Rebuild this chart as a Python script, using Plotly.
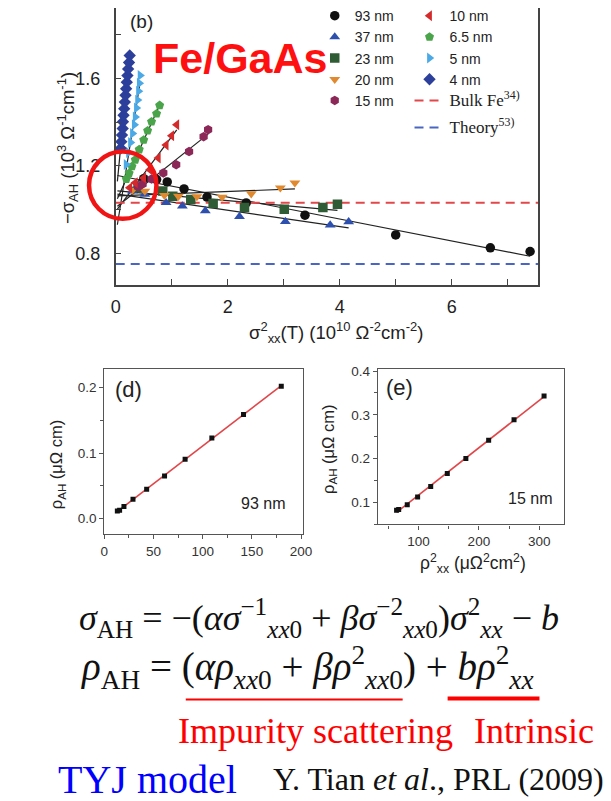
import numpy as np
import plotly.graph_objects as go

W, H = 611, 801


def px(x):
    return x / W


def py(y):
    return 1 - y / H


SANS = "Liberation Sans"
SERIF = "Liberation Serif"

# ---- panel (b): -sigma_AH versus sigma_xx^2 for each Fe film thickness ----
labels_b = ["93 nm", "37 nm", "23 nm", "20 nm", "15 nm",
            "10 nm", "6.5 nm", "5 nm", "4 nm"]
symbols_b = ["circle", "triangle-up", "square", "triangle-down", "hexagon",
             "triangle-left", "pentagon", "triangle-right", "diamond"]
colors_b = ["#111111", "#2d4fae", "#2f5c34", "#e0892e", "#8c2858",
            "#d42a2c", "#4aa54a", "#4ba9e6", "#2c3f9a"]

x_93 = [0.50, 0.73, 0.92, 1.22, 1.63, 2.33, 3.38, 5.00, 6.69, 7.40]
y_93 = [1.142, 1.138, 1.127, 1.095, 1.058, 1.031, 0.975, 0.885, 0.826, 0.809]
x_37 = [0.30, 0.52, 0.90, 1.19, 1.60, 2.21, 3.03, 3.83, 4.16]
y_37 = [1.085, 1.070, 1.032, 1.017, 0.995, 0.969, 0.946, 0.930, 0.945]
x_23 = [0.40, 0.84, 1.02, 1.34, 1.74, 2.30, 3.01, 3.70, 3.96]
y_23 = [1.100, 1.085, 1.062, 1.047, 1.028, 1.010, 1.002, 1.010, 1.025]
x_20 = [0.30, 0.52, 0.87, 1.12, 1.45, 1.90, 2.42, 2.94, 3.20]
y_20 = [1.090, 1.085, 1.066, 1.062, 1.060, 1.058, 1.073, 1.100, 1.123]
x_15 = [0.40, 0.48, 0.64, 0.85, 1.08, 1.31, 1.57, 1.65]
y_15 = [1.105, 1.117, 1.140, 1.168, 1.206, 1.266, 1.334, 1.366]
x_10 = [0.25, 0.35, 0.50, 0.61, 0.76, 0.90, 1.00, 1.09]
y_10 = [1.100, 1.123, 1.145, 1.183, 1.236, 1.296, 1.338, 1.388]
x_65 = [0.19, 0.24, 0.29, 0.35, 0.42, 0.50, 0.57, 0.64, 0.73, 0.785]
y_65 = [1.140, 1.167, 1.198, 1.228, 1.275, 1.319, 1.361, 1.402, 1.439, 1.477]
x_5 = [0.187, 0.230, 0.265, 0.300, 0.332, 0.349, 0.370, 0.391, 0.408, 0.422, 0.436]
y_5 = [1.207, 1.262, 1.307, 1.348, 1.388, 1.424, 1.465, 1.501, 1.542, 1.578, 1.614]
x_4 = [0.090, 0.100, 0.112, 0.125, 0.129, 0.140, 0.152, 0.163, 0.175,
       0.186, 0.198, 0.210, 0.222, 0.238, 0.250]
y_4 = [1.281, 1.311, 1.341, 1.371, 1.402, 1.432, 1.462, 1.492, 1.523,
       1.553, 1.583, 1.613, 1.643, 1.673, 1.705]

xs_b = [x_93, x_37, x_23, x_20, x_15, x_10, x_65, x_5, x_4]
ys_b = [y_93, y_37, y_23, y_20, y_15, y_10, y_65, y_5, y_4]

bulk_fe = 1.032
theory = 0.752
xrange_b = [0, 7.55]
yrange_b = [0.655, 1.922]

# ---- panel (d): rho_AH versus rho_xx^2, 93 nm film ----
x_d = [13.2, 15.5, 19.9, 29.1, 43.0, 61.2, 82.1, 109.3, 141.5, 179.9]
y_d = [0.0115, 0.0127, 0.0187, 0.0297, 0.0448, 0.0649, 0.0905, 0.123, 0.159, 0.202]

# ---- panel (e): rho_AH versus rho_xx^2, 15 nm film ----
x_e = [63.5, 67.0, 81.2, 98.4, 120.1, 147.6, 178.4, 216.2, 258.3, 308.1]
y_e = [0.082, 0.0835, 0.0946, 0.112, 0.136, 0.166, 0.200, 0.242, 0.289, 0.343]

fig = go.Figure()

# linear fits for every thickness in (b)
for xv, yv in zip(xs_b, ys_b):
    k, c = np.polyfit(xv, yv, 1)
    xl = np.array([0.03, max(xv)])
    fig.add_trace(go.Scatter(x=xl, y=k * xl + c, mode="lines",
                             line=dict(color="#222222", width=1.2),
                             showlegend=False, hoverinfo="skip",
                             xaxis="x", yaxis="y"))

serif_span = "<span style=\"font-family:Liberation Serif;font-size:17px\">{}</span>"

# reference levels
fig.add_trace(go.Scatter(x=xrange_b, y=[bulk_fe, bulk_fe], mode="lines",
                         line=dict(color="#e2474a", width=2, dash="9px,6px"),
                         name=serif_span.format("Bulk Fe<sup>34)</sup>"),
                         legend="legend2", xaxis="x", yaxis="y"))
fig.add_trace(go.Scatter(x=xrange_b, y=[theory, theory], mode="lines",
                         line=dict(color="#4a66c2", width=2, dash="9px,6px"),
                         name=serif_span.format("Theory<sup>53)</sup>"),
                         legend="legend3", xaxis="x", yaxis="y"))

for i, (xv, yv) in enumerate(zip(xs_b, ys_b)):
    fig.add_trace(go.Scatter(x=xv, y=yv, mode="markers", name=labels_b[i],
                             marker=dict(symbol=symbols_b[i], color=colors_b[i],
                                         size=9.5, line=dict(width=0)),
                             legend="legend" if i < 5 else "legend2",
                             legendrank=i + 1,
                             xaxis="x", yaxis="y"))

# panels (d) and (e)
for xv, yv, xa, ya in [(x_d, y_d, "x2", "y2"), (x_e, y_e, "x3", "y3")]:
    k, c = np.polyfit(xv, yv, 1)
    xl = np.array([min(xv), max(xv)])
    fig.add_trace(go.Scatter(x=xl, y=k * xl + c, mode="lines",
                             line=dict(color="#e0474a", width=1.6),
                             showlegend=False, xaxis=xa, yaxis=ya))
    fig.add_trace(go.Scatter(x=xv, y=yv, mode="markers",
                             marker=dict(symbol="square", color="#111111", size=5),
                             showlegend=False, xaxis=xa, yaxis=ya))

axis_common = dict(showgrid=False, zeroline=False, showline=True)
small_axis = dict(ticks="outside", ticklen=4, tickcolor="#555", linecolor="#555",
                  linewidth=1.2, mirror=True, **axis_common)

fig.update_layout(
    width=W, height=H, margin=dict(l=0, r=0, t=0, b=0),
    paper_bgcolor="white", plot_bgcolor="white",
    font=dict(family=SANS, color="#222222"),
    xaxis=dict(domain=[px(113.3), px(546)], range=xrange_b, anchor="y",
               tick0=0, dtick=2, ticks="inside", ticklen=6,
               minor=dict(dtick=1, ticks="inside", ticklen=6, tickcolor="#444"),
               tickcolor="#444", linecolor="#444", linewidth=1.5,
               ticklabelstandoff=4, tickfont=dict(size=18, color="#222"),
               **axis_common),
    yaxis=dict(domain=[py(280), 1], range=yrange_b, anchor="x",
               tick0=0.8, dtick=0.4, tickformat=".1f", ticks="inside", ticklen=6,
               minor=dict(dtick=0.2, ticks="inside", ticklen=6, tickcolor="#444"),
               tickcolor="#444", linecolor="#444", linewidth=1.5, mirror=True,
               ticklabelstandoff=10, tickfont=dict(size=18, color="#222"),
               **axis_common),
    xaxis2=dict(domain=[px(101.7), px(305)], range=[0, 202], anchor="y2",
                dtick=50, tick0=0,
                minor=dict(dtick=25, ticklen=3, ticks="outside", tickcolor="#555"),
                tickfont=dict(size=13.5, color="#333"), **small_axis),
    yaxis2=dict(domain=[py(531.7), py(365)], range=[-0.024, 0.2277], anchor="x2",
                dtick=0.1, tick0=0, tickformat=".1f",
                minor=dict(dtick=0.05, ticklen=3, ticks="outside", tickcolor="#555"),
                tickfont=dict(size=13.5, color="#333"), **small_axis),
    xaxis3=dict(domain=[px(381.7), px(571.7)], range=[32.6, 340.5], anchor="y3",
                dtick=100, tick0=0,
                minor=dict(dtick=50, ticklen=3, ticks="outside", tickcolor="#555"),
                tickfont=dict(size=13.5, color="#333"), **small_axis),
    yaxis3=dict(domain=[py(521.7), py(365)], range=[0.0493, 0.404], anchor="x3",
                dtick=0.1, tick0=0, tickformat=".1f",
                minor=dict(dtick=0.05, ticklen=3, ticks="outside", tickcolor="#555"),
                tickfont=dict(size=13.5, color="#333"), **small_axis),
    legend=dict(x=px(317), y=py(-8), xanchor="left", yanchor="top",
                font=dict(family=SANS, size=14, color="#222"),
                bgcolor="rgba(0,0,0,0)", traceorder="normal"),
    legend2=dict(x=px(414), y=py(-8), xanchor="left", yanchor="top",
                 font=dict(family=SANS, size=14, color="#222"),
                 bgcolor="rgba(0,0,0,0)", traceorder="normal"),
    legend3=dict(x=px(414), y=py(105), xanchor="left", yanchor="top",
                 font=dict(family=SANS, size=14, color="#222"),
                 bgcolor="rgba(0,0,0,0)"),
)

ann = []


def text(x, y, s, size, color="#222", family=SANS, anchor="center", angle=0, bold=False):
    if bold:
        s = "<b>" + s + "</b>"
    ann.append(dict(x=px(x), y=py(y), xref="paper", yref="paper", text=s,
                    showarrow=False, xanchor=anchor, yanchor="middle",
                    textangle=angle, font=dict(family=family, size=size, color=color)))


text(139.5, 14, "(b)", 19)
text(241, 50, "Fe/GaAs", 43, color="#ff1010", bold=True)
text(64, 142, "−σ<sub>AH</sub> (10<sup>3</sup> Ω<sup>-1</sup>cm<sup>-1</sup>)", 18.5, angle=-90)
text(339, 328, "σ<sup>2</sup><sub>xx</sub>(T) (10<sup>10</sup> Ω<sup>-2</sup>cm<sup>-2</sup>)", 18.5)

text(126, 385, "(d)", 22)
text(264, 500, "93 nm", 16)
text(54, 461, "ρ<sub>AH</sub> (μΩ cm)", 16.5, angle=-90)

text(404, 383, "(e)", 22)
text(537, 495, "15 nm", 16)
text(331, 446, "ρ<sub>AH</sub> (μΩ cm)", 16.5, angle=-90)
text(479, 561, "ρ<sup>2</sup><sub>xx</sub> (μΩ<sup>2</sup>cm<sup>2</sup>)", 17.5)

eq1 = ("<i>σ</i><sub>AH</sub> = −(<i>ασ</i><sup>−1</sup><sub><i>xx</i>0</sub> + "
       "<i>βσ</i><sup>−2</sup><sub><i>xx</i>0</sub>)<i>σ</i><sup>2</sup><sub><i>xx</i></sub> − <i>b</i>")
eq2 = ("<i>ρ</i><sub>AH</sub> = (<i>αρ</i><sub><i>xx</i>0</sub> + "
       "<i>βρ</i><sup>2</sup><sub><i>xx</i>0</sub>) + <i>bρ</i><sup>2</sup><sub><i>xx</i></sub>")
text(74, 616, eq1, 36, color="#111", family=SERIF, anchor="left")
text(76, 666, eq2, 39, color="#111", family=SERIF, anchor="left")

text(318, 730, "Impurity scattering", 36, color="#ff0000", family=SERIF)
text(541, 730, "Intrinsic", 36, color="#ff0000", family=SERIF)
text(146, 779, "TYJ model", 40, color="#0000ff", family=SERIF)
text(444, 779, "Y. Tian <i>et al</i>., PRL (2009)", 32, color="#111", family=SERIF)

fig.update_layout(annotations=ann)

shapes = [
    dict(type="circle", xref="paper", yref="paper",
         x0=px(86), x1=px(155), y0=py(145), y1=py(213),
         line=dict(color="#f01414", width=4.5)),
    dict(type="line", xref="paper", yref="paper",
         x0=px(185), x1=px(407), y0=py(698.5), y1=py(698.5),
         line=dict(color="#ff0000", width=2.2)),
    dict(type="line", xref="paper", yref="paper",
         x0=px(453), x1=px(547), y0=py(697.5), y1=py(697.5),
         line=dict(color="#ff0000", width=4)),
]
fig.update_layout(shapes=shapes)

fig.write_html("out.html")
